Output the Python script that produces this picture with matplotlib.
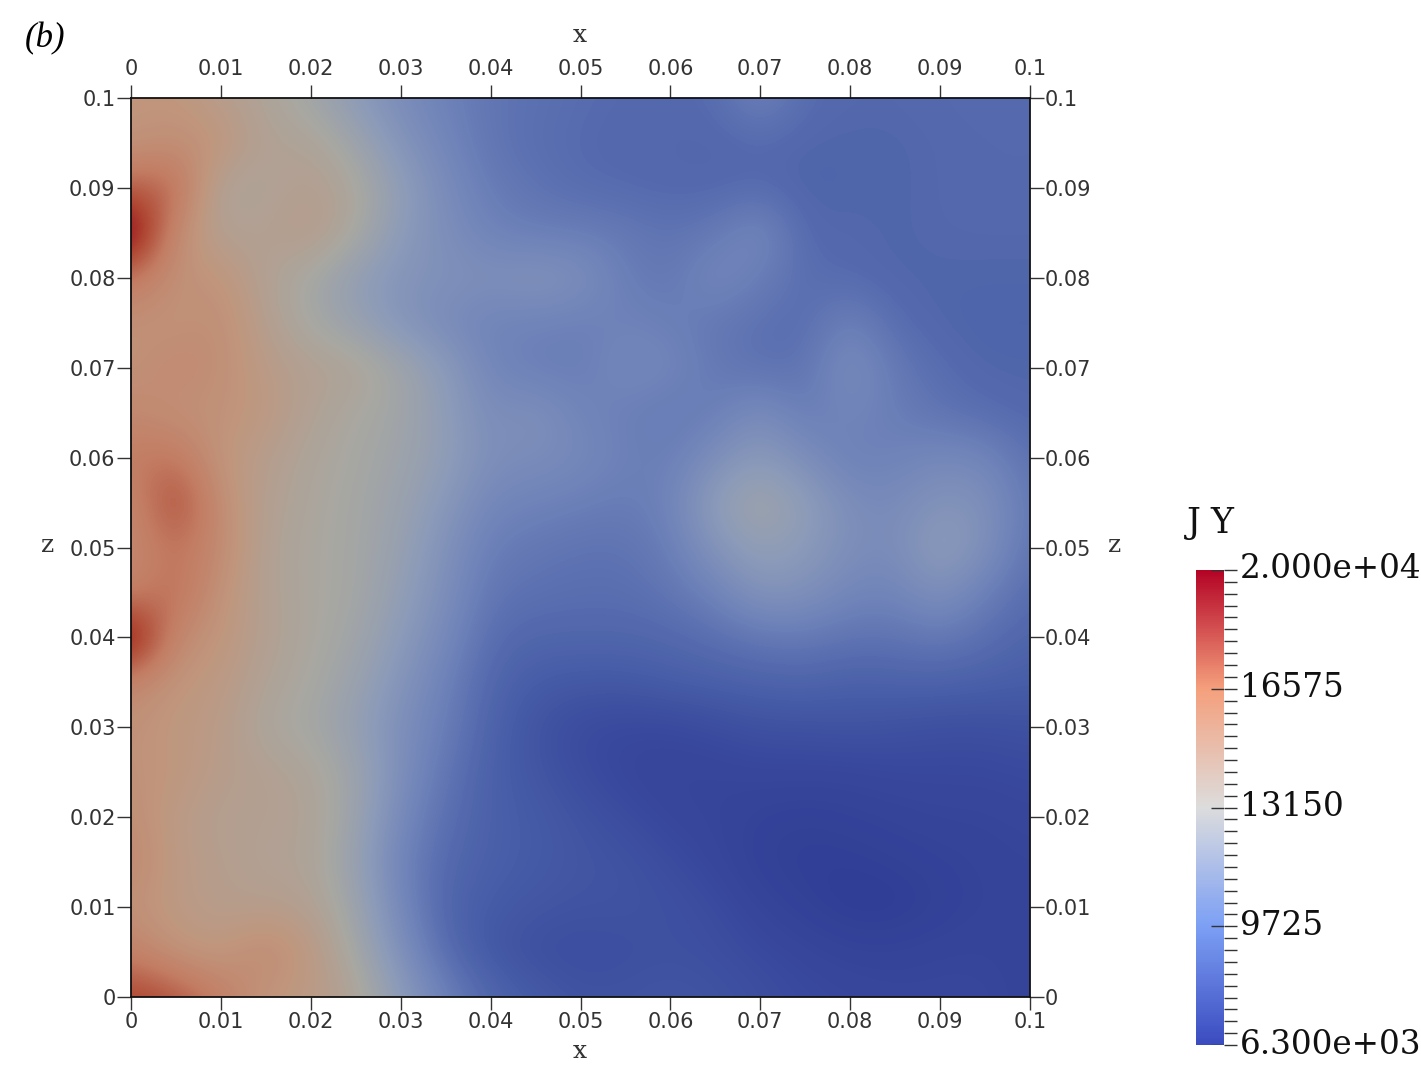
import numpy as np
import matplotlib
matplotlib.use("Agg")
import matplotlib.pyplot as plt
from matplotlib.colors import LinearSegmentedColormap
from matplotlib.transforms import ScaledTranslation

W, H = 1421, 1074

x_ticks = [0, 0.01, 0.02, 0.03, 0.04, 0.05, 0.06, 0.07, 0.08, 0.09, 0.1]
tick_labels = ["0", "0.01", "0.02", "0.03", "0.04", "0.05", "0.06", "0.07", "0.08", "0.09", "0.1"]
cbar_min = 6300
cbar_max = 20000
cbar_ticks = [6300, 9725, 13150, 16575, 20000]
cbar_labels = ["6.300e+03", "9725", "13150", "16575", "2.000e+04"]
cbar_title = "J Y"

# J Y in thousands; columns x = 0, 0.005, ... 0.1
z100 = [15,15,14.2,13.6,12.8,11.5,10.4,9.7,9.1,8.9,8.7,8.6,8.5,8.7,9.8,8.7,8.5,8.5,8.6,8.7,8.6]
z095 = [15,15.5,15.2,13.8,13.8,12.6,11,10,9.1,8.8,8.6,8.5,8.5,8.4,8.6,8.4,8.4,8.4,8.5,8.6,8.6]
z090 = [17.5,17.5,13.4,13.6,14.2,13.5,11.8,10.4,9.4,9,8.7,8.6,8.5,8.5,8.6,8.3,8.4,8.4,8.5,8.6,8.6]
z085 = [20.8,15.6,13.8,14,14.5,13.3,11.5,10.6,9.8,9.5,9.5,9.3,9,9.3,10.3,8.5,8.5,8.4,8.5,8.5,8.5]
z080 = [16.8,15.3,15.2,13.8,13,11.8,11,10.8,10.7,11,10.7,9.5,9.2,10.2,9.5,8.8,8.6,8.4,8.4,8.4,8.4]
z075 = [15.3,15.2,15.6,14.1,13,12.2,11,10.3,9.8,9.8,9.6,9.8,9.6,9.2,8.9,8.7,9.8,8.7,8.4,8.3,8.3]
z070 = [15.3,15.9,15.5,14.5,14,13.8,12.8,11.5,10,9.5,9.5,10.2,10,9.3,8.9,9,10.6,9.3,8.7,8.4,8.4]
z065 = [15.8,15.3,15.3,14.8,13.8,13.2,12.8,11.7,10.4,10.8,9.9,9.6,9.3,9.5,10.5,9.4,10,9.5,9,8.7,8.5]
z060 = [16.6,16.9,15,14.2,13.5,13.1,12.6,11.8,10.6,10.5,10.2,9.7,9.5,10.6,11.5,10.5,9.6,9.8,10.2,10,8.9]
z055 = [15.8,18.5,15.5,14,13.4,13,12.4,11.3,10,9.8,9.6,9.4,9.8,11.8,12.8,11.8,10.5,10.3,11,10.8,9.2]
z050 = [15.8,17,15.8,13.8,13.3,13,12.2,10.8,9.5,9.2,9,9,9.5,11,12,11.5,10.6,10.4,11.8,10.8,9]
z045 = [16,17.3,15.2,13.9,13.3,13,11.9,10.6,9.1,8.9,8.8,8.8,9.1,9.8,11,10.8,10,9.9,10.8,9.6,8.7]
z040 = [20.5,15.8,15,14,13.3,12.8,11.5,10.2,8.7,8.4,8.4,8.4,8.5,8.8,9.2,9.3,9,9,9.3,8.8,8.3]
z035 = [16,15,14.7,13.7,13.2,12.4,11,9.7,8.4,7.9,7.8,7.8,8,8.1,8.2,8.3,8.1,8.2,8.2,8.1,8]
z030 = [15.3,14.8,14.5,13.3,13,12,10.6,9.5,8.2,7.6,7.2,7.1,7.1,7.3,7.5,7.5,7.6,7.5,7.4,7.4,7.5]
z025 = [15.3,15,14.3,14,13.6,12.6,10.6,9.1,8.1,7.7,7.3,7,6.9,6.9,7,7,7,7.1,7.1,7.1,7.2]
z020 = [15.6,14.5,14,14,13.8,12.5,10.2,8.8,8.1,7.9,7.6,7.3,7,6.9,6.7,6.6,6.7,6.8,6.9,6.9,7]
z015 = [16,14.6,14.2,13.8,13.7,12.2,9.8,8.5,8.1,7.9,7.7,7.6,7.3,7,6.6,6.5,6.5,6.6,6.7,6.8,6.9]
z010 = [15.3,14.6,14.2,14.2,14,12.6,10.1,8.3,7.9,7.7,7.6,7.6,7.5,7.3,6.9,6.6,6.4,6.4,6.6,6.8,6.8]
z005 = [16.3,15.1,14.8,16,14.8,13,10.7,8.6,7.7,7.4,7.3,7.4,7.5,7.4,7.2,7,6.8,6.8,6.9,6.9,6.8]
z000 = [18.5,18,16.5,15,14.6,13.8,11.6,9.7,8.4,7.9,7.6,7.6,7.7,7.6,7.4,7.2,7.1,7,7,7,6.8]

field_rows = [z100, z095, z090, z085, z080, z075, z070, z065, z060, z055, z050,
              z045, z040, z035, z030, z025, z020, z015, z010, z005, z000]
field = np.array(field_rows) * 1000.0

def rgb(*c):
    return tuple(v / 255 for v in c)

def stop(value):
    return (value * 1000 - cbar_min) / (cbar_max - cbar_min)

# the field is lit, so its colours are duller than the colour bar's
field_cmap = LinearSegmentedColormap.from_list("field", [
    (stop(6.3), rgb(48, 60, 148)), (stop(7.2), rgb(58, 74, 158)), (stop(8.0), rgb(72, 94, 168)),
    (stop(9.7), rgb(110, 130, 185)), (stop(11.5), rgb(140, 155, 185)), (stop(13.15), rgb(168, 168, 162)),
    (stop(15.0), rgb(192, 150, 125)), (stop(16.6), rgb(195, 125, 100)), (stop(18.3), rgb(175, 70, 50)),
    (stop(20.0), rgb(150, 0, 25))])
bar_cmap = LinearSegmentedColormap.from_list("bar", [
    (0.00, rgb(59, 76, 192)), (0.25, rgb(125, 160, 245)), (0.50, rgb(221, 221, 221)),
    (0.75, rgb(245, 160, 125)), (1.00, rgb(180, 4, 38))])

SERIF = ["DejaVu Serif"]
SANS = ["DejaVu Sans"]
TICK_FS = 15
PX = 0.72
INK = "#333333"

fig = plt.figure(figsize=(W / 100, H / 100), dpi=100)
def axpx(x0, y0, x1, y1):
    return fig.add_axes([x0 / W, 1 - y1 / H, (x1 - x0) / W, (y1 - y0) / H])

ax = axpx(131, 98, 1030, 997)
half = 0.0025
ax.imshow(field, extent=[-half, 0.1 + half, -half, 0.1 + half], origin="upper", cmap=field_cmap,
          vmin=cbar_min, vmax=cbar_max, interpolation="bicubic", aspect="auto")
ax.set_xlim(0, 0.1)
ax.set_ylim(0, 0.1)
for s in ax.spines.values():
    s.set_linewidth(1.3)
    s.set_color("#111111")

ax.set_xticks(x_ticks, tick_labels, family=SANS, fontsize=TICK_FS, color=INK)
ax.set_yticks(x_ticks, tick_labels, family=SANS, fontsize=TICK_FS, color=INK)
ax.tick_params(axis="x", length=13 * PX, width=1, pad=1.5, color=INK)
ax.tick_params(axis="y", length=14 * PX, width=1, pad=1, color=INK)

top = ax.secondary_xaxis("top")
top.set_xticks(x_ticks, tick_labels, family=SANS, fontsize=TICK_FS, color=INK)
top.tick_params(length=13 * PX, width=1, pad=4.5, color=INK)
top.spines["top"].set_visible(False)

right = ax.secondary_yaxis("right")
right.set_yticks(x_ticks, tick_labels, family=SANS, fontsize=TICK_FS, color=INK)
right.tick_params(length=14 * PX, width=1, pad=0.5, color=INK)
right.spines["right"].set_visible(False)

def txt(px, py, s, **kw):
    fig.text(px / W, 1 - py / H, s, ha="center", va="center", **kw)

txt(580, 36, "x", family=SERIF, fontsize=18, color=INK)
txt(580, 1052, "x", family=SERIF, fontsize=18, color=INK)
txt(48, 545, "z", family=SERIF, fontsize=18, color=INK)
txt(1115, 545, "z", family=SERIF, fontsize=18, color=INK)
txt(45, 39, "(b)", family=["Liberation Serif"], style="italic", fontsize=25, color="black")

cax = axpx(1196, 570, 1224, 1045)
grad = np.linspace(cbar_max, cbar_min, 256)[:, None]
cax.imshow(grad, extent=[0, 1, cbar_min, cbar_max], cmap=bar_cmap, vmin=cbar_min,
           vmax=cbar_max, aspect="auto", interpolation="nearest")
for s in cax.spines.values():
    s.set_visible(False)
cax.set_xticks([])
cax.yaxis.tick_right()
cax.set_yticks(cbar_ticks, cbar_labels, family=SERIF, fontsize=23.5, color="#111111")
minor = [v for v in np.arange(cbar_min, cbar_max + 1, (cbar_ticks[1] - cbar_ticks[0]) / 10)]
cax.set_yticks(minor, minor=True)
cax.tick_params(which="both", length=13 * PX, width=1, color="#333333")
cax.tick_params(which="major", pad=2)
cax.hlines(cbar_ticks, 0.54, 1, color="#333333", lw=1, transform=cax.get_yaxis_transform())
cax.set_ylim(cbar_min, cbar_max)
for lab in cax.get_yticklabels():
    lab.set_transform(lab.get_transform() + ScaledTranslation(0, 4 / 100, fig.dpi_scale_trans))
txt(1211, 523, cbar_title, family=SERIF, fontsize=25, color="#111111")

fig.savefig("out.png", dpi=100)
